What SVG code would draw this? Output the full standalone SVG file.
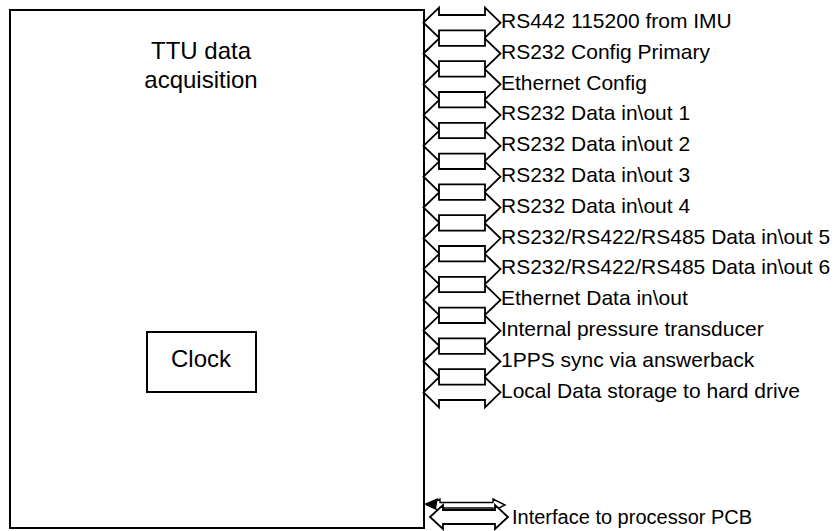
<svg xmlns="http://www.w3.org/2000/svg" xmlns:xlink="http://www.w3.org/1999/xlink" width="837" height="531" viewBox="0 0 837 531">
<style>
.box{fill:#fff;stroke:#000;stroke-width:2}
.arr{fill:#fff;stroke:#000;stroke-width:1.8;stroke-linejoin:miter}
.thin{fill:#fff;stroke:#000;stroke-width:1.4}
.t{font-family:"Liberation Sans",Arial,sans-serif;fill:#000}
.lbl{font-size:21px}
.big{font-size:24px;text-anchor:middle}
</style>
<defs>
<polygon id="dbl" points="423.5,0 439,-15 439,-7.7 485,-7.7 485,-15 500.5,0 485,15 485,7.7 439,7.7 439,15"/>
</defs>
<rect width="837" height="531" fill="#fff"/>
<g id="ttu">
<rect class="box" x="10" y="10" width="414" height="518"/>
<text class="t big" x="201" y="59">TTU data</text>
<text class="t big" x="201" y="88">acquisition</text>
</g>
<g id="clock">
<rect class="box" x="147" y="332" width="109" height="60"/>
<text class="t big" x="201" y="367">Clock</text>
</g>
<g id="connectors">
<use xlink:href="#dbl" class="arr" transform="translate(0,22.7)"/>
<use xlink:href="#dbl" class="arr" transform="translate(0,53.5)"/>
<use xlink:href="#dbl" class="arr" transform="translate(0,84.3)"/>
<use xlink:href="#dbl" class="arr" transform="translate(0,115.1)"/>
<use xlink:href="#dbl" class="arr" transform="translate(0,145.9)"/>
<use xlink:href="#dbl" class="arr" transform="translate(0,176.7)"/>
<use xlink:href="#dbl" class="arr" transform="translate(0,207.5)"/>
<use xlink:href="#dbl" class="arr" transform="translate(0,238.3)"/>
<use xlink:href="#dbl" class="arr" transform="translate(0,269.1)"/>
<use xlink:href="#dbl" class="arr" transform="translate(0,299.9)"/>
<use xlink:href="#dbl" class="arr" transform="translate(0,330.7)"/>
<use xlink:href="#dbl" class="arr" transform="translate(0,361.5)"/>
<use xlink:href="#dbl" class="arr" transform="translate(0,392.3)"/>
<polygon class="thin" points="427,505 440,499 440,502.5 493,502.5 493,499 505,505 493,511 493,508 440,508 440,511"/>
<polygon points="424,504 438,498 436,509" fill="#000"/>
<polygon class="arr" points="430,517 443,505 443,510 495,510 495,505 508,517 495,529 495,524 443,524 443,529"/>
</g>
<g id="labels" class="t lbl">
<text id="l1" x="501" y="28">RS442 115200 from IMU</text>
<text id="l2" x="501" y="58.8">RS232 Config Primary</text>
<text id="l3" x="501" y="89.6">Ethernet Config</text>
<text id="l4" x="501" y="120.4">RS232 Data in\out 1</text>
<text id="l5" x="501" y="151.2">RS232 Data in\out 2</text>
<text id="l6" x="501" y="182">RS232 Data in\out 3</text>
<text id="l7" x="501" y="212.8">RS232 Data in\out 4</text>
<text id="l8" x="501" y="243.6">RS232/RS422/RS485 Data in\out 5</text>
<text id="l9" x="501" y="274.4">RS232/RS422/RS485 Data in\out 6</text>
<text id="l10" x="501" y="305.2">Ethernet Data in\out</text>
<text id="l11" x="501" y="336">Internal pressure transducer</text>
<text id="l12" x="501" y="366.8">1PPS sync via answerback</text>
<text id="l13" x="501" y="397.6">Local Data storage to hard drive</text>
<text id="l14" x="512" y="524" style="font-size:20px">Interface to processor PCB</text>
</g>
</svg>
